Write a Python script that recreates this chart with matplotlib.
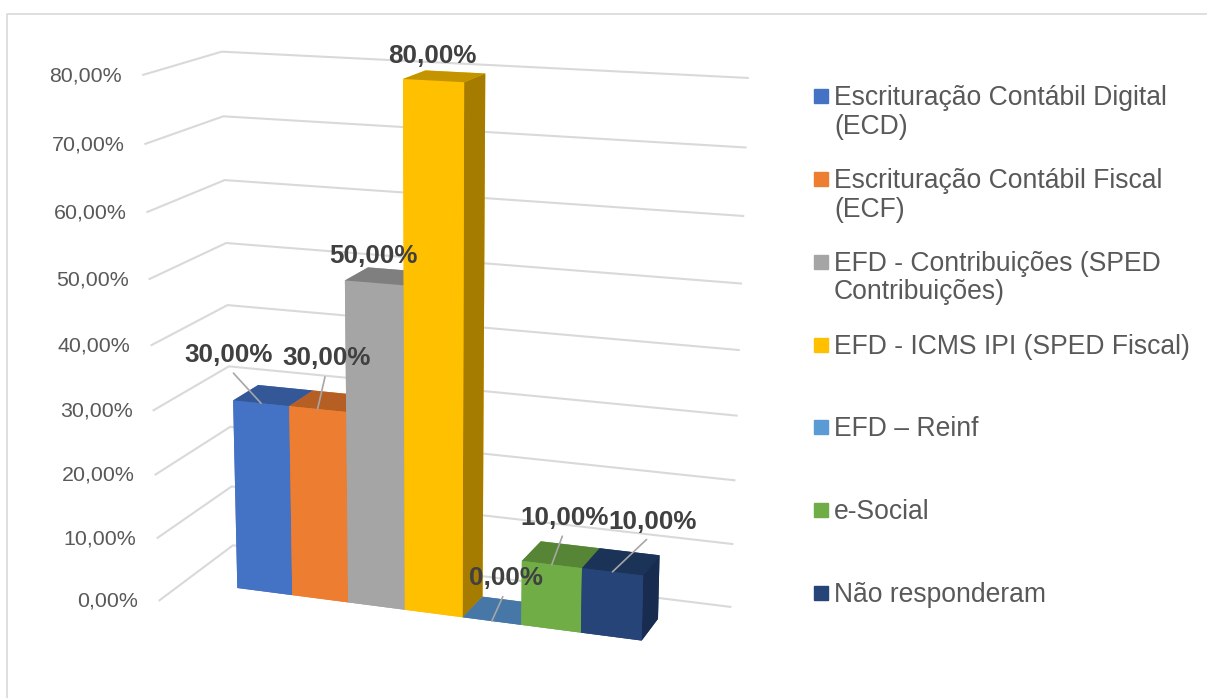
#!/usr/bin/env python3
import numpy as np
import matplotlib as mpl
mpl.use('Agg')
import matplotlib.pyplot as plt
from matplotlib.lines import Line2D
from matplotlib.patches import Rectangle

W, H = 1207, 698

labels = ['Escrituração Contábil Digital\n(ECD)', 'Escrituração Contábil Fiscal\n(ECF)',
          'EFD - Contribuições (SPED\nContribuições)', 'EFD - ICMS IPI (SPED Fiscal)',
          'EFD – Reinf', 'e-Social', 'Não responderam']
values = [30, 30, 50, 80, 0, 10, 10]
ticks = [0, 10, 20, 30, 40, 50, 60, 70, 80]

front_colors = ['#4472C4', '#ED7D31', '#A5A5A5', '#FFC000', '#4677A6', '#70AD47', '#264478']
top_colors = ['#345897', '#B55F25', '#7F7F7F', '#C49400', '#4677A6', '#568536', '#1C3358']
side_colors = ['#2E4D85', '#A3551F', '#727272', '#A67C00', '#3E6A94', '#4B752F', '#182C50']
legend_colors = ['#4472C4', '#ED7D31', '#A5A5A5', '#FFC000', '#5B9BD5', '#70AD47', '#264478']

# where each value label sits relative to its bar, in pixels
label_offsets = [(-33, 48), (9, 51), (-1, 27), (-1, 25), (14, 43), (13, 47), (40, 50)]
has_leader = [True, True, False, False, True, True, True]

# camera and wall extents, fitted against the picture
xL, xR, yF, yB = -0.9678, 7.9769, -0.9613, 1.9274

plt.rcParams['font.family'] = ['Liberation Sans', 'DejaVu Sans']
fig = plt.figure(figsize=(W / 100, H / 100), dpi=100)
ax = fig.add_axes([62.17 / W, -31.32 / H, 744.0 / W, 744.0 / H], projection='3d', computed_zorder=False)
ax.set_xlim(-1, 8)
ax.set_ylim(-1, 2)
ax.set_zlim(0, 80)
ax.view_init(14.6112, -70.2979, -0.0506)
ax.set_proj_type('persp', focal_length=0.5943)
ax.set_box_aspect((9, 3.0172, 8.7152), zoom=1.0498)
ax.set_axis_off()
ax.patch.set_visible(False)


def flat(x, y, z):
    v = ax.get_proj() @ np.array([x, y, z, 1.0])
    return v[0] / v[3], v[1] / v[3]


for v in ticks:
    ax.plot([xL, xL, xR], [yF, yB, yB], [v, v, v], color='#D9D9D9', lw=1.5, zorder=1)
    ax.annotate(f'{v},00%', xy=flat(xL, yF, v), xytext=(-21, -1), textcoords='offset pixels',
                ha='right', va='center', fontsize=15.4, color='#595959', annotation_clip=False)

for i, v in enumerate(values):
    cols = [front_colors[i], top_colors[i], front_colors[i], front_colors[i], front_colors[i], side_colors[i]]
    ax.bar3d(i, 0, 0, 1, 1, v, color=cols, shade=False, zorder=2 + i)

for i, v in enumerate(values):
    arrow = None
    if has_leader[i]:
        arrow = dict(arrowstyle='-', color='#A6A6A6', lw=1.2, relpos=(0.5, 0), shrinkA=3, shrinkB=0)
    ax.annotate(f'{v},00%', xy=flat(i + 0.5, 0, v), xytext=label_offsets[i], textcoords='offset pixels',
                ha='center', va='center', fontsize=18.7, fontweight='bold', color='#404040',
                arrowprops=arrow, annotation_clip=False, zorder=20)

fig.add_artist(Line2D([7 / W, 7 / W, 1], [0, 1 - 14 / H, 1 - 14 / H], color='#D9D9D9', lw=1.2))
for i, lab in enumerate(labels):
    yc = 96.2 + 82.8 * i
    fig.add_artist(Rectangle((814 / W, 1 - (yc + 7) / H), 14 / W, 14 / H, color=legend_colors[i]))
    fig.text(834 / W, 1 - (yc - 11) / H, lab, fontsize=19.1, color='#595959', va='top', linespacing=1.13)

fig.savefig('out.png', dpi=100)
